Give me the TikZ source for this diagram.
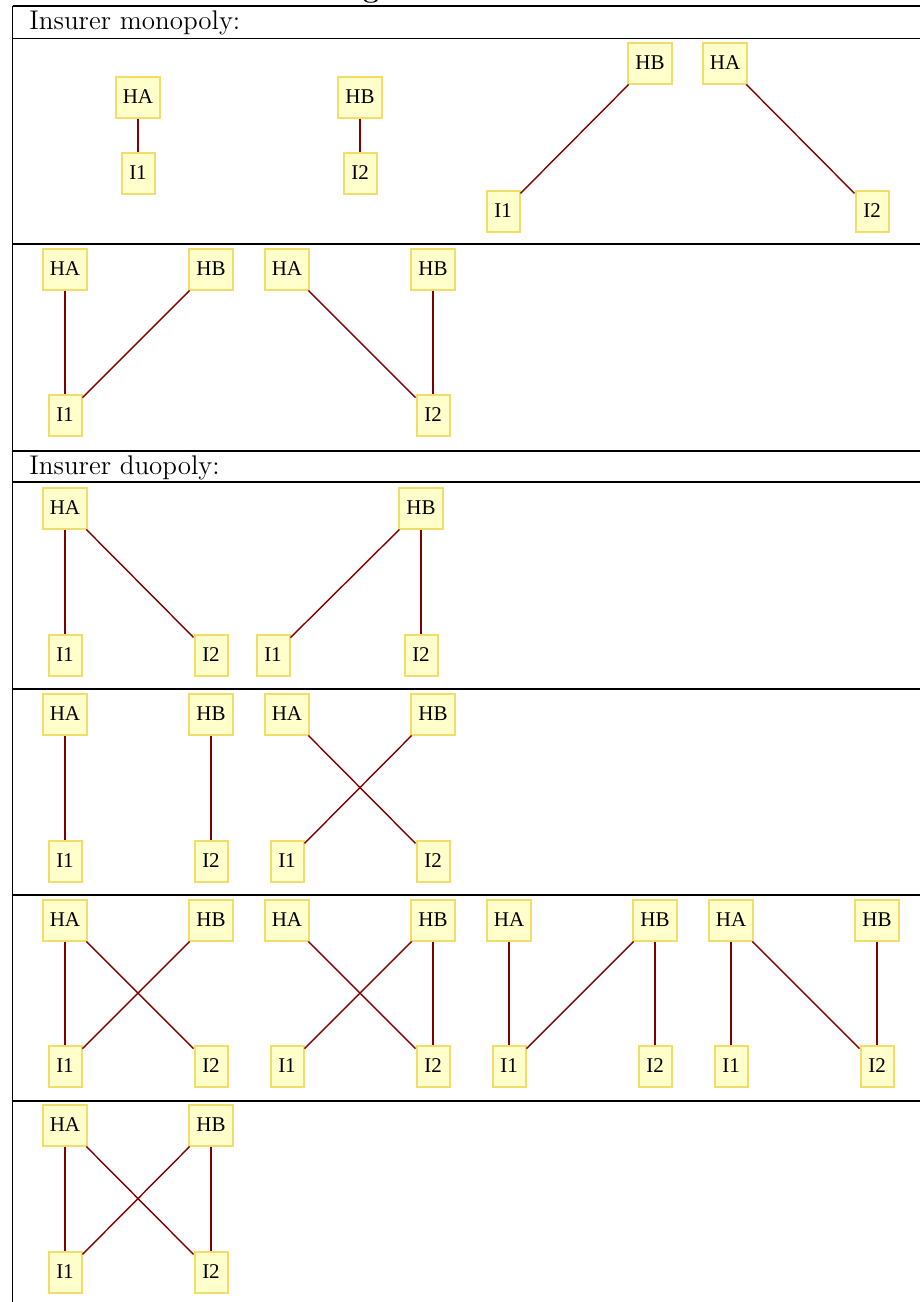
\documentclass[tikz,border=0pt]{standalone}
\usepackage{fontspec}
\newfontfamily\tms{Liberation Serif}
\definecolor{boxfill}{HTML}{FFFFCC}
\definecolor{boxline}{HTML}{F2DC6A}
\definecolor{edgec}{HTML}{800000}
\tikzset{
 hbox/.style={draw=boxline, fill=boxfill, line width=1pt, minimum width=21.8pt, minimum height=20.5pt, inner sep=0pt, font=\tms\fontsize{10.5}{12}\selectfont},
 ibox/.style={hbox, minimum width=16.5pt},
 edge/.style={draw=edgec, line width=0.7pt},
 rulel/.style={line width=0.85pt, black},
 lbl/.style={anchor=base west, inner sep=0pt, font=\fontsize{13.5}{16}\selectfont}
}
\begin{document}
\begin{tikzpicture}[x=0.5pt, y=-0.5pt]
\useasboundingbox (0,0) rectangle (920,1302);
% title fragment
\node[anchor=base, inner sep=0pt, font=\bfseries\fontsize{14.4}{17}\selectfont] (title) at (371,-2.6) {g};
% table rules
\draw[line width=1.1pt] (12.5,6) -- (920,6);
\draw[rulel] (12.5,6) -- (12.5,1302);
\foreach \yy in {38.5,244,451,482,689,895,1101} {\draw[rulel] (12.5,\yy) -- (920,\yy);}
\node[lbl] (mono) at (29,29.5) {Insurer monopoly:};
\node[lbl] (duo) at (29,474) {Insurer duopoly:};
% Row 1
\node[hbox] (a1) at (138,97) {HA};
\node[ibox] (a2) at (138,173) {I1};
\node[hbox] (b1) at (360,97) {HB};
\node[ibox] (b2) at (360,173) {I2};
\node[hbox] (c1) at (650,63) {HB};
\node[hbox] (c2) at (725,63) {HA};
\node[ibox] (c3) at (503,211) {I1};
\node[ibox] (c4) at (872,211) {I2};
\draw[edge] (a1) -- (a2);
\draw[edge] (b1) -- (b2);
\draw[edge] (c1) -- (c3);
\draw[edge] (c2) -- (c4);
% Row 2
\node[hbox] (d1) at (65,269) {HA};
\node[hbox] (d2) at (211,269) {HB};
\node[ibox] (d3) at (65,415) {I1};
\draw[edge] (d1) -- (d3);
\draw[edge] (d2) -- (d3);
\node[hbox] (e1) at (287,269) {HA};
\node[hbox] (e2) at (433,269) {HB};
\node[ibox] (e3) at (433,415) {I2};
\draw[edge] (e1) -- (e3);
\draw[edge] (e2) -- (e3);
% Row 4
\node[hbox] (f1) at (65,508) {HA};
\node[ibox] (f2) at (65,655) {I1};
\node[ibox] (f3) at (211,655) {I2};
\draw[edge] (f1) -- (f2);
\draw[edge] (f1) -- (f3);
\node[hbox] (g1) at (421,508) {HB};
\node[ibox] (g2) at (273,655) {I1};
\node[ibox] (g3) at (421,655) {I2};
\draw[edge] (g1) -- (g2);
\draw[edge] (g1) -- (g3);
% Row 5
\node[hbox] (h1) at (65,714) {HA};
\node[hbox] (h2) at (211,714) {HB};
\node[ibox] (h3) at (65,861) {I1};
\node[ibox] (h4) at (211,861) {I2};
\draw[edge] (h1) -- (h3);
\draw[edge] (h2) -- (h4);
\node[hbox] (i1) at (287,714) {HA};
\node[hbox] (i2) at (433,714) {HB};
\node[ibox] (i3) at (287,861) {I1};
\node[ibox] (i4) at (433,861) {I2};
\draw[edge] (i1) -- (i4);
\draw[edge] (i2) -- (i3);
% Row 6
\node[hbox] (j1) at (65,920) {HA};
\node[hbox] (j2) at (211,920) {HB};
\node[ibox] (j3) at (65,1066) {I1};
\node[ibox] (j4) at (211,1066) {I2};
\draw[edge] (j1) -- (j3);
\draw[edge] (j1) -- (j4);
\draw[edge] (j2) -- (j3);
\node[hbox] (k1) at (287,920) {HA};
\node[hbox] (k2) at (433,920) {HB};
\node[ibox] (k3) at (287,1066) {I1};
\node[ibox] (k4) at (433,1066) {I2};
\draw[edge] (k1) -- (k4);
\draw[edge] (k2) -- (k3);
\draw[edge] (k2) -- (k4);
\node[hbox] (l1) at (509,920) {HA};
\node[hbox] (l2) at (655,920) {HB};
\node[ibox] (l3) at (509,1066) {I1};
\node[ibox] (l4) at (655,1066) {I2};
\draw[edge] (l1) -- (l3);
\draw[edge] (l2) -- (l3);
\draw[edge] (l2) -- (l4);
\node[hbox] (m1) at (731,920) {HA};
\node[hbox] (m2) at (877,920) {HB};
\node[ibox] (m3) at (731,1066) {I1};
\node[ibox] (m4) at (877,1066) {I2};
\draw[edge] (m1) -- (m3);
\draw[edge] (m1) -- (m4);
\draw[edge] (m2) -- (m4);
% Row 7
\node[hbox] (n1) at (65,1125) {HA};
\node[hbox] (n2) at (211,1125) {HB};
\node[ibox] (n3) at (65,1272) {I1};
\node[ibox] (n4) at (211,1272) {I2};
\draw[edge] (n1) -- (n3);
\draw[edge] (n1) -- (n4);
\draw[edge] (n2) -- (n3);
\draw[edge] (n2) -- (n4);
\end{tikzpicture}
\end{document}
